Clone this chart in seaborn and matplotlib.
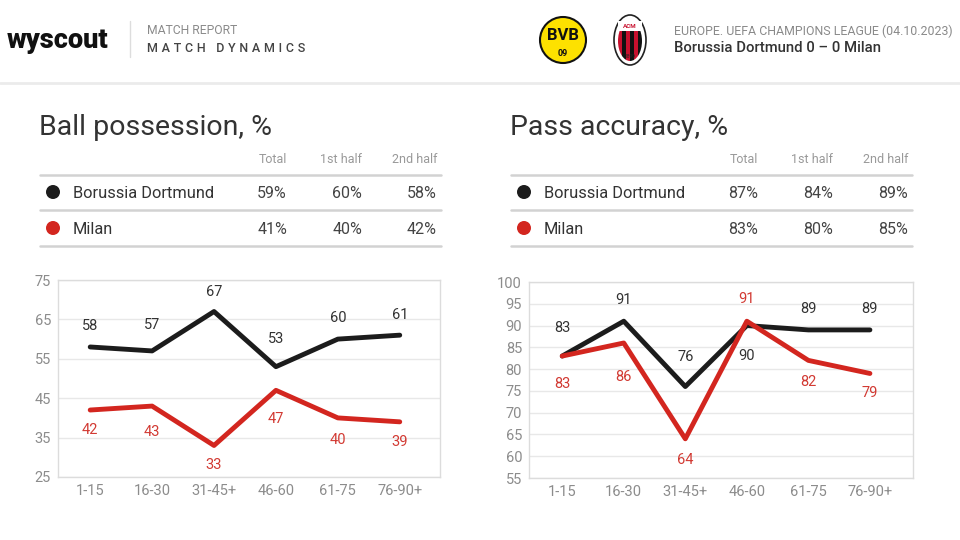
import pandas as pd
import matplotlib.pyplot as plt
import seaborn as sns
from matplotlib.patches import Circle, Ellipse, Rectangle

sns.set_theme(style="white")
plt.rcParams["font.family"] = ["Roboto", "DejaVu Sans"]

# Dados
periodos = ["1-15", "16-30", "31-45+", "46-60", "61-75", "76-90+"]
equipes = ["Borussia Dortmund", "Milan"]

posse_bvb = [58, 57, 67, 53, 60, 61]
posse_milan = [42, 43, 33, 47, 40, 39]
passe_bvb = [83, 91, 76, 90, 89, 89]
passe_milan = [83, 86, 64, 91, 82, 79]

colunas_tabela = ["Total", "1st half", "2nd half"]
tabela_posse = {"Borussia Dortmund": ["59%", "60%", "58%"], "Milan": ["41%", "40%", "42%"]}
tabela_passe = {"Borussia Dortmund": ["87%", "84%", "89%"], "Milan": ["83%", "80%", "85%"]}

competicao = "EUROPE. UEFA CHAMPIONS LEAGUE (04.10.2023)"
placar = "Borussia Dortmund 0 \u2013 0 Milan"

CORES = {"Borussia Dortmund": "#1c1c1c", "Milan": "#d3261f"}
CORES_ROTULO = {"Borussia Dortmund": "#333333", "Milan": "#d23a33"}
CINZA_TXT = "#8c8c8c"
CINZA_LINHA = "#d2d2d2"

fig = plt.figure(figsize=(9.6, 5.4), dpi=100)

# Camada de fundo em pixels (y para baixo)
base = fig.add_axes([0, 0, 1, 1], zorder=-1)
base.set_xlim(0, 960)
base.set_ylim(540, 0)
base.axis("off")

# Cabeçalho
base.text(7, 40, "wyscout", fontsize=19.5, fontweight="heavy", color="#111111", va="center", ha="left")
base.plot([130, 130], [21, 57], color="#dddddd", lw=1)
base.text(147, 31, "MATCH REPORT", fontsize=8.7, color="#8a8a8a", va="center")
base.text(147, 49, "\u2009\u200a".join("MATCH DYNAMICS"), fontsize=9, color="#444444", va="center", fontweight="medium")
base.plot([0, 960], [83, 83], color="#ebebeb", lw=2)

# Escudo BVB (aproximado)
base.add_patch(Circle((563, 40), 23, facecolor="#fde100", edgecolor="#111111", lw=1.5))
base.text(563, 36, "BVB", fontsize=12, fontweight="bold", color="#111111", ha="center", va="center")
base.text(563, 53, "09", fontsize=6.5, fontweight="bold", color="#111111", ha="center", va="center")

# Escudo Milan (aproximado)
base.add_patch(Ellipse((630, 40), 32, 50, facecolor="white", edgecolor="#222222", lw=1.2))
interno = Ellipse((630, 41), 24, 40, facecolor="none", edgecolor="none")
base.add_patch(interno)
for k in range(6):
    faixa = Rectangle((618 + k * 4, 21), 4, 40, facecolor="#c8102e" if k % 2 == 0 else "#111111", edgecolor="none")
    base.add_patch(faixa)
    faixa.set_clip_path(interno)
base.add_patch(Rectangle((618, 21), 24, 10, facecolor="white", edgecolor="none"))
base.text(630, 26, "ACM", fontsize=4.5, color="#c8102e", ha="center", va="center", fontweight="bold")
base.text(630, 57, "1899", fontsize=3.5, color="#222222", ha="center", va="center")

base.text(674, 31, competicao, fontsize=8.95, color="#8a8a8a", va="center")
base.text(674, 48, placar, fontsize=10.7, color="#333333", va="center", fontweight="medium")


def desenhar_tabela(x0, titulo, tabela):
    base.text(x0 - 1, 135, titulo, fontsize=20.5, color="#333333", va="baseline")
    col_x = [x0 + 247, x0 + 322, x0 + 397]
    for cx, nome in zip(col_x, colunas_tabela):
        base.text(cx, 163, nome, fontsize=9, color="#999999", ha="right", va="baseline")
    for ly in [175, 210, 246]:
        base.plot([x0, x0 + 401], [ly, ly], color=CINZA_LINHA, lw=1.8)
    for ry, equipe in zip([192, 228], equipes):
        base.add_patch(Circle((x0 + 13, ry), 7, facecolor=CORES[equipe], edgecolor="none"))
        base.text(x0 + 33, ry + 6, equipe, fontsize=11.8, color="#333333", va="baseline")
        for cx, val in zip(col_x, tabela[equipe]):
            base.text(cx, ry + 6, val, fontsize=11.5, color="#444444", ha="right", va="baseline")


desenhar_tabela(40, "Ball possession, %", tabela_posse)
desenhar_tabela(511, "Pass accuracy, %", tabela_passe)


def grafico(pos, serie_a, serie_b, yticks, xlim, desloc_a, desloc_b):
    ax = fig.add_axes(pos)
    ax.set_facecolor("none")
    df = pd.DataFrame({
        "periodo": periodos * 2,
        "valor": serie_a + serie_b,
        "equipe": [equipes[0]] * len(periodos) + [equipes[1]] * len(periodos),
    })
    sns.lineplot(data=df, x="periodo", y="valor", hue="equipe", palette=CORES,
                 linewidth=3.5, sort=False, legend=False, ax=ax)
    # Rótulos dos pontos (deslocamento em pixels)
    for serie, desl, equipe in [(serie_a, desloc_a, equipes[0]), (serie_b, desloc_b, equipes[1])]:
        for i, (v, d) in enumerate(zip(serie, desl)):
            ax.annotate(str(v), (i, v), xytext=(0, d * 0.72), textcoords="offset points",
                        ha="center", va="center", fontsize=10.5, color=CORES_ROTULO[equipe])
    ax.set_ylim(yticks[0], yticks[-1])
    ax.set_yticks(yticks)
    ax.set_xlim(*xlim)
    ax.grid(axis="y", color="#e8e8e8", lw=1)
    ax.grid(axis="x", visible=False)
    for s in ax.spines.values():
        s.set_color("#dcdcdc")
        s.set_linewidth(1)
    ax.tick_params(axis="both", length=0, labelsize=10.5, labelcolor=CINZA_TXT, pad=5)
    ax.set_xlabel("")
    ax.set_ylabel("")
    return ax


grafico([58 / 960, 1 - 477 / 540, 382 / 960, 197 / 540], posse_bvb, posse_milan,
        [25, 35, 45, 55, 65, 75], (-0.52, 5.65),
        [21, 26, 20, 28, 21, 20], [-20, -26, -20, -29, -22, -20])
grafico([529 / 960, 1 - 478 / 540, 384 / 960, 196 / 540], passe_bvb, passe_milan,
        list(range(55, 101, 5)), (-0.54, 5.70),
        [28, 21, 30, -30, 21, 21], [-28, -34, -21, 22, -22, -20])

fig.savefig("out.png", dpi=100)
